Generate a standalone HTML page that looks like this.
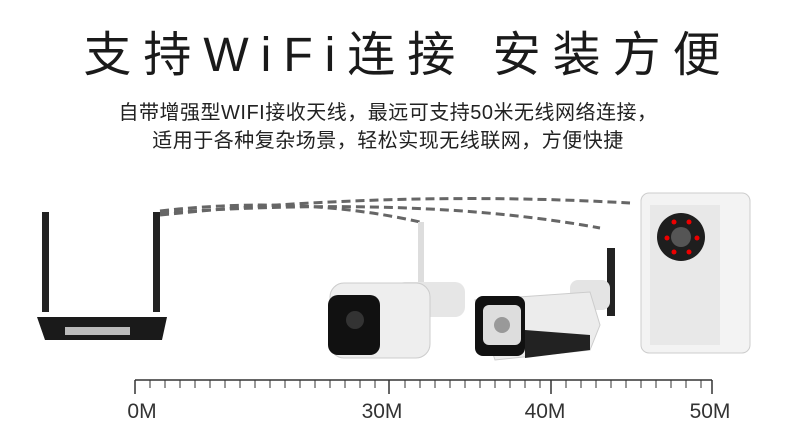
<!DOCTYPE html>
<html><head><meta charset="utf-8"><style>
body{margin:0;width:800px;height:436px;background:#fff;overflow:hidden;position:relative;font-family:"Liberation Sans","Noto Sans CJK SC",sans-serif}
.t{position:absolute;left:0;width:800px;text-align:center;color:#222}
</style></head><body>
<div class="t" style="top:26px;left:8px;font-size:48px;letter-spacing:12px;line-height:60px;color:#1a1a1a">支持WiFi连接&nbsp;安装方便</div>
<div class="t" style="top:99px;left:-12px;font-size:20px;letter-spacing:0.5px;line-height:28px;color:#222">自带增强型WIFI接收天线，最远可支持50米无线网络连接，<br>适用于各种复杂场景，轻松实现无线联网，方便快捷</div>
<svg width="800" height="436" style="position:absolute;left:0;top:0">
<g fill="none" stroke="#666" stroke-width="3" stroke-dasharray="9,5">
<path d="M160 215 Q400 190 630 203"/>
<path d="M160 213 Q420 195 600 228"/>
<path d="M160 211 Q300 195 420 222"/>
</g>
<rect x="42" y="212" width="7" height="100" fill="#222"/>
<rect x="153" y="212" width="7" height="100" fill="#222"/>
<path d="M37 317 L167 317 L162 340 L45 340 Z" fill="#1a1a1a"/>
<rect x="65" y="327" width="65" height="8" fill="#bbb"/>
<rect x="418" y="222" width="6" height="80" fill="#ddd"/>
<rect x="395" y="282" width="70" height="35" rx="10" fill="#e6e6e6"/>
<rect x="330" y="283" width="100" height="75" rx="14" fill="#eee" stroke="#ccc"/>
<rect x="328" y="295" width="52" height="60" rx="10" fill="#111"/>
<circle cx="355" cy="320" r="9" fill="#333"/>
<rect x="607" y="248" width="8" height="68" fill="#222"/>
<rect x="570" y="280" width="40" height="30" rx="8" fill="#e4e4e4"/>
<path d="M475 300 L590 292 L600 325 L590 350 L495 360 Z" fill="#ececec" stroke="#ccc"/>
<rect x="475" y="296" width="50" height="60" rx="8" fill="#111"/>
<rect x="483" y="305" width="38" height="40" rx="6" fill="#ddd"/>
<circle cx="502" cy="325" r="8" fill="#999"/>
<path d="M525 330 L590 335 L590 350 L525 358 Z" fill="#222"/>
<rect x="641" y="193" width="109" height="160" rx="8" fill="#f3f3f3" stroke="#ccc"/>
<rect x="650" y="205" width="70" height="140" fill="#e8e8e8"/>
<circle cx="681" cy="237" r="24" fill="#1e1e1e"/>
<circle cx="681" cy="237" r="10" fill="#555"/>
<g fill="#e00"><circle cx="674" cy="222" r="2.5"/><circle cx="689" cy="222" r="2.5"/><circle cx="667" cy="238" r="2.5"/><circle cx="697" cy="238" r="2.5"/><circle cx="674" cy="252" r="2.5"/><circle cx="689" cy="252" r="2.5"/></g>
<g stroke="#333" stroke-width="1.5">
<line x1="135" y1="380" x2="712" y2="380"/>
<line x1="135" y1="380" x2="135" y2="394"/>
<line x1="389" y1="380" x2="389" y2="394"/>
<line x1="551" y1="380" x2="551" y2="394"/>
<line x1="712" y1="380" x2="712" y2="394"/>
</g>
<g stroke="#333" stroke-width="1">
<path d="M150 380v8M165 380v8M180 380v8M195 380v8M210 380v8M225 380v8M240 380v8M255 380v8M270 380v8M285 380v8M300 380v8M315 380v8M330 380v8M345 380v8M360 380v8M375 380v8
M405 380v8M420 380v8M435 380v8M450 380v8M465 380v8M480 380v8M495 380v8M510 380v8M525 380v8M540 380v8
M566 380v8M581 380v8M596 380v8M611 380v8M626 380v8M641 380v8M656 380v8M671 380v8M686 380v8M701 380v8"/>
</g>
<g font-size="21" fill="#333" text-anchor="middle" font-family="Liberation Sans,sans-serif">
<text x="142" y="418">0M</text><text x="382" y="418">30M</text><text x="545" y="418">40M</text><text x="710" y="418">50M</text>
</g>
</svg>
</body></html>
